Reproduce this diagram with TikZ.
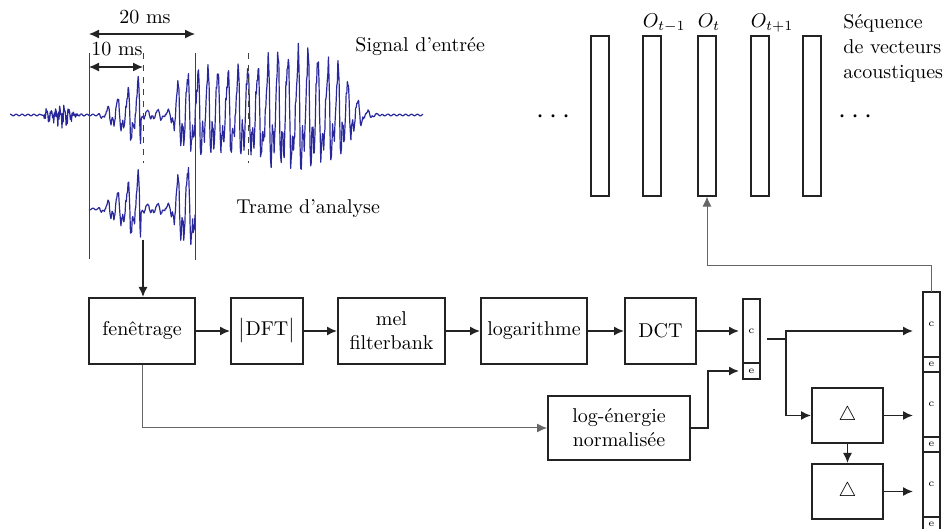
\documentclass[tikz,border=0pt]{standalone}
\usepackage{amsmath}
\usepackage{xcolor}
\usepackage{tikz}
\usetikzlibrary{positioning, arrows.meta}

\definecolor{onde}{RGB}{40,40,155}
\definecolor{trait}{RGB}{35,35,35}

\begin{document}
\begin{tikzpicture}[x=0.5pt, y=-0.5pt,
  blc/.style  = {draw=trait, line width=1pt, minimum height=33pt, inner sep=1pt, align=center},
  vec/.style  = {draw=trait, line width=0.6pt, minimum width=9pt, minimum height=80pt, inner sep=0pt},
  cel/.style  = {draw=trait, line width=1pt, minimum width=8.5pt, inner sep=0pt, outer sep=0pt,
                 font=\fontsize{5}{6}\selectfont},
  flx/.style  = {-{Latex[length=5pt, width=4.5pt]}, draw=trait, line width=0.75pt},
  fin/.style  = {-{Latex[length=5pt, width=4.5pt]}, draw=black!60, line width=0.5pt},
  cot/.style  = {{Latex[length=5pt, width=4.5pt]}-{Latex[length=5pt, width=4.5pt]},
                 draw=trait, line width=0.6pt},
  rep/.style  = {draw=black!75, line width=0.5pt},
  sgn/.style  = {draw=onde, line width=0.6pt, line join=round},
  lgd/.style  = {font=\fontsize{10}{12.5}\selectfont, inner sep=0pt},
  declare function={
    bruit(\x) = 14*exp(-(((\x-62)/11)^2)) + 7*exp(-(((\x-47)/3)^2));
    voix(\x)  = (\x>98)*(\x<141)*0.85*(\x-98)
              + (\x>=141)*(\x<170)*5
              + (\x>=170)*(44*(1-exp(-max(0,\x-170)/6))*exp(-((max(0,\x-335)/22)^2))
                           + 18*exp(-(((\x-295)/35)^2)));
    grain(\x) = sin(173*mod(\x,50))*cos(91*mod(\x,40));
    onde(\x)  = bruit(\x)*grain(\x)
              + voix(\x)*(sin(36*\x) + 0.45*sin(72*mod(\x,10)+60)
                          + 0.3*sin(108*mod(\x,10)+20) + 0.3*grain(\x))/1.35
              + 0.8*sin(61*mod(\x,59));
  }
]
\useasboundingbox (0,0) rectangle (944,529);
\clip (0,0) rectangle (944,529);

% --- signal d'entree et trame ---
\draw[sgn] plot[domain=10:423, samples=700] (\x,{115+onde(\x)});
\draw[sgn] plot[domain=89:195, samples=180] (\x,{209+onde(\x)});
\draw[rep] (89,53) -- (89,259);
\draw[rep] (195,53) -- (195,260);
\draw[rep, dashed] (143,53) -- (143,163);
\draw[rep, dashed] (248,53) -- (248,163);
\draw[cot] (89,34) -- (195,34);
\draw[cot] (89,67) -- (143,67);
\node[lgd, anchor=base] (l20) at (145,24) {20 ms};
\node[lgd, anchor=base] (l10) at (117,56) {10 ms};
\node[lgd, anchor=base west] (sig) at (355,52) {Signal d'entrée};
\node[lgd, anchor=base west] (tra) at (236,214) {Trame d'analyse};
\coordinate (tr) at (143,240);

% --- sequence de vecteurs ---
\foreach \n/\x in {1/600,2/652,3/707,4/760,5/812} { \node[vec] (o\n) at (\x,116) {}; }
\node[anchor=base west, inner sep=0pt] (lo2) at ([yshift=4pt]o2.north west) {$O_{t-1}$};
\node[anchor=base west, inner sep=0pt] (lo3) at ([yshift=4pt]o3.north west) {$O_{t}$};
\node[anchor=base west, inner sep=0pt] (lo4) at ([yshift=4pt]o4.north west) {$O_{t+1}$};
\node[lgd, font=\fontsize{14}{14}\selectfont] (p1) at (556,117) {$\cdots$};
\node[lgd, font=\fontsize{14}{14}\selectfont] (p2) at (858,117) {$\cdots$};
\node[lgd, anchor=north west, align=left] (seq) at (843,14) {Séquence\\de vecteurs\\acoustiques};

% --- chaine de traitement ---
\node[blc, minimum width=53pt] (fen) at (142,331) {fenêtrage};
\node[blc, minimum width=36pt, right=17pt of fen] (dft) {$\bigl|$DFT$\bigr|$};
\node[blc, minimum width=53.5pt, right=16.5pt of dft] (mel) {mel\\filterbank};
\node[blc, minimum width=53pt, right=17pt of mel] (log) {logarithme};
\node[blc, minimum width=35.5pt, right=18pt of log] (dct) {DCT};
\node[blc, minimum width=71pt, minimum height=32pt] (nrj) at (619,428) {log-énergie\\normalisée};
\node[blc, minimum width=35.5pt, minimum height=27.5pt] (d1) at (847.5,415.5) {$\triangle$};
\node[blc, minimum width=35.5pt, minimum height=27.5pt] (d2) at (847.5,491.5) {$\triangle$};

% --- vecteur c/e ---
\node[cel, minimum height=32pt] (vc) at (751.5,331) {c};
\node[cel, minimum height=8pt, below=0pt of vc] (ve) {e};

% --- vecteur final ---
\node[cel, minimum height=32.5pt] (c1) at (931.5,324.5) {c};
\node[cel, minimum height=7.5pt, below=0pt of c1] (e1) {e};
\node[cel, minimum height=32.5pt, below=0pt of e1] (c2) {c};
\node[cel, minimum height=7.5pt, below=0pt of c2] (e2) {e};
\node[cel, minimum height=32.5pt, below=0pt of e2] (c3) {c};
\node[cel, minimum height=7.5pt, below=0pt of c3] (e3) {e};

% --- fleches ---
\draw[flx] (tr) -- (tr |- fen.north);
\draw[flx] (fen) -- (dft);
\draw[flx] (dft) -- (mel);
\draw[flx] (mel) -- (log);
\draw[flx] (log) -- (dct);
\draw[flx, shorten >=2pt] (dct) -- (vc);
\draw[fin] (fen.south) |- (nrj.west);
\draw[flx, shorten >=2pt] (nrj.east) -- ++(17,0) |- (ve.west);
\coordinate (jn) at (786,339);
\coordinate (hc) at (786,331);
\draw[trait, line width=0.75pt] ([xshift=3.5pt]vc.east |- jn) -- (jn);
\draw[flx, shorten >=5pt] (jn) |- (hc -| c1.west);
\draw[flx] (jn) |- (d1.west);
\draw[flx, shorten >=5pt] (d1) -- (d1 -| c2.west);
\draw[flx, shorten >=5pt] (d2) -- (d2 -| c3.west);
\draw[flx] (d1) -- (d2);
\draw[fin] (c1.north) |- ([yshift=-34.5pt]o3.south) -- (o3.south);
\end{tikzpicture}
\end{document}
